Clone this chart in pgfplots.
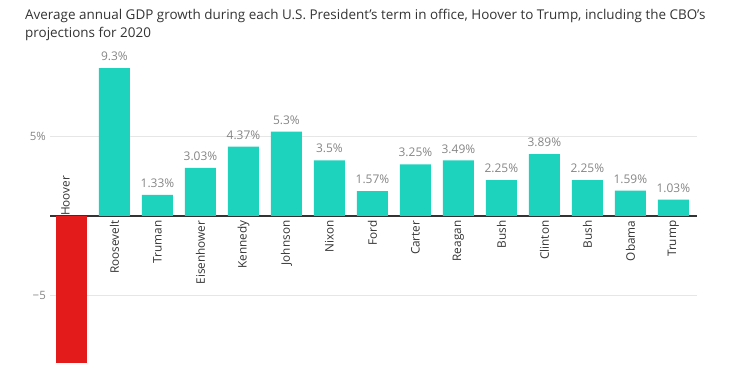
\documentclass[border=0pt]{standalone}
\usepackage{pgfplots}
\pgfplotsset{compat=1.18}
\usepackage{pgfplotstable}
\usepackage{fontspec}
\setmainfont{Open Sans}
\definecolor{teal}{HTML}{1DD3BE}
\definecolor{hred}{HTML}{E31B1B}
\definecolor{vgray}{HTML}{858585}
\definecolor{ngray}{HTML}{333333}
\definecolor{ggray}{HTML}{E6E6E6}
\pgfplotstableread{
x y lab
1 9.3 9.3
2 1.33 1.33
3 3.03 3.03
4 4.37 4.37
5 5.3 5.3
6 3.5 3.5
7 1.57 1.57
8 3.25 3.25
9 3.49 3.49
10 2.25 2.25
11 3.89 3.89
12 2.25 2.25
13 1.59 1.59
14 1.03 1.03
}\growth
\pgfplotstableread{
x y
0 -9.25
}\hoover
\begin{document}
\begin{tikzpicture}
\path[use as bounding box] (-50bp,0) rectangle (702bp,371bp);
\begin{axis}[
  at={(0,0)}, anchor=south west,
  scale only axis, width=647bp, height=314bp,
  xmin=-0.5, xmax=14.55, ymin=-9.75, ymax=10,
  axis x line*=middle, axis y line*=left,
  x axis line style={draw=ngray, line width=1.2bp, -},
  y axis line style={draw=none},
  xtick={1,...,14}, xticklabels={Roosevelt,Truman,Eisenhower,Kennedy,Johnson,Nixon,Ford,Carter,Reagan,Bush,Clinton,Bush,Obama,Trump},
  xticklabel style={rotate=90, anchor=east, font=\fontsize{11.8}{12}\selectfont, text=ngray, inner sep=4.5bp},
  ytick={-5,5}, yticklabels={−5,5\%},
  yticklabel style={font=\fontsize{11.5}{12}\selectfont, text=vgray, inner sep=2bp, xshift=-2bp},
  /pgf/number format/assume math mode=true,
  major tick length=0pt,
  ymajorgrids, grid style={ggray, line width=0.8bp},
  ybar, bar width=31bp, bar shift=0pt,
  clip=false,
]
\addplot[fill=hred, draw=none] table[x=x,y=y] {\hoover};
\addplot[fill=teal, draw=none,
  nodes near coords={\pgfplotspointmeta\%},
  point meta=explicit symbolic,
  every node near coord/.style={font=\fontsize{12}{12}\selectfont, text=vgray, anchor=south, inner sep=0pt, yshift=7bp}
] table[x=x,y=y,meta=lab] {\growth};
\node[rotate=90, anchor=west, font=\fontsize{11.8}{12}\selectfont, text=ngray, inner sep=0pt] at (axis cs:0,0) [yshift=6bp] {Hoover};
\end{axis}
\node[anchor=base west, font=\fontsize{13.5}{15}\selectfont, text=ngray, inner sep=0pt] at (-25bp,351bp) {Average annual GDP growth during each U.S. President's term in office, Hoover to Trump, including the CBO's};
\node[anchor=base west, font=\fontsize{13.5}{15}\selectfont, text=ngray, inner sep=0pt] at (-25bp,333bp) {projections for 2020};
\end{tikzpicture}
\end{document}
